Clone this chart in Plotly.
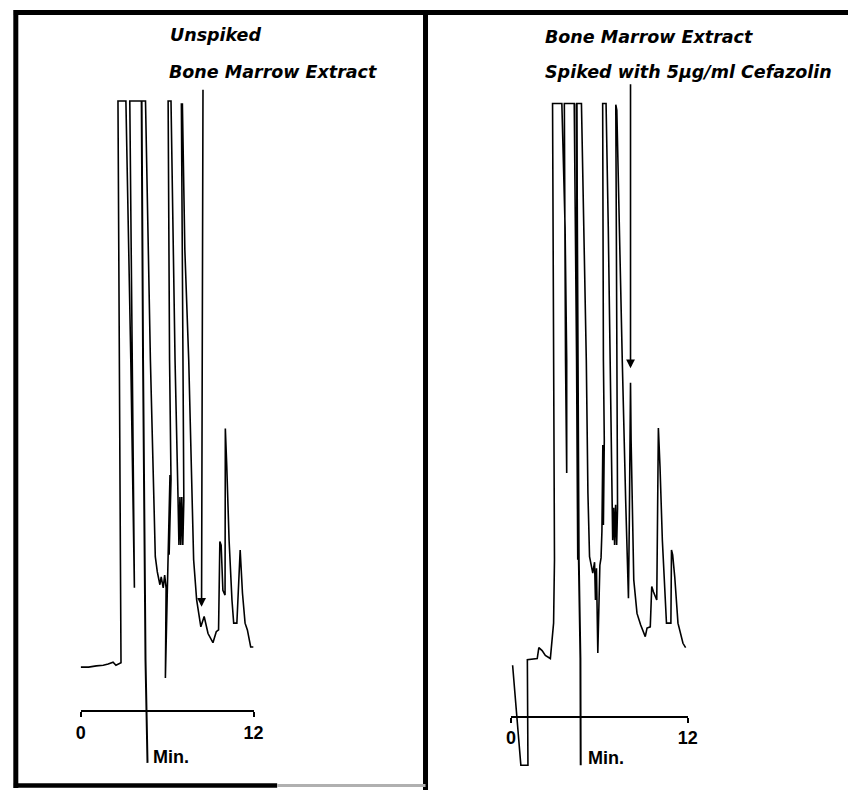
import plotly.graph_objects as go

# Chromatogram traces: retention time (min) vs. detector response (% full scale).
# Flat tops at 100 are off-scale peaks clipped by the recorder.

# Unspiked bone marrow extract
left_time = [0.0, 0.55, 1.09, 1.57, 1.91, 2.25, 2.45, 2.80, 2.76, 2.69, 2.59, 3.14, 3.34, 3.48, 3.73,
             3.58, 3.41, 4.50, 4.67, 4.84, 5.18, 5.32, 5.50, 5.59, 5.73, 5.83, 5.93, 5.88, 6.00,
             6.07, 6.20, 6.14, 6.27, 6.17, 6.07, 6.27, 6.41, 6.55, 6.75, 6.82, 6.89, 6.95, 7.02,
             7.09, 7.16, 7.09, 6.99, 7.06, 7.23, 7.50, 7.84, 8.05, 8.34, 8.57, 8.84, 9.18, 9.41,
             9.57, 9.66, 9.75, 9.87, 10.02, 10.04, 10.14, 10.30, 10.50, 10.62, 10.84, 10.94,
             11.07, 11.23, 11.41, 11.57, 11.80, 12.0]
left_signal = [7.2, 7.2, 7.4, 7.5, 7.7, 8.0, 7.5, 7.9, 24.8, 57.5, 100, 100, 75.6, 57.5, 20.2,
               57.5, 100, 100, 75.6, 57.5, 25.3, 22.8, 20.7, 22.0, 20.2, 22.3, 20.2, 5.4, 18.2,
               24.8, 38.7, 25.6, 37.9, 57.5, 100, 100, 75.6, 57.5, 35.7, 27.2, 35.1, 27.2, 35.1,
               27.2, 34.6, 67.4, 99.5, 99.5, 75.6, 57.5, 24.8, 18.2, 13.8, 15.5, 12.7, 11.2, 13.0,
               13.3, 27.8, 27.2, 19.8, 19.0, 46.3, 40.1, 28.0, 18.2, 14.4, 14.4, 19.0,
               26.4, 19.3, 14.4, 13.3, 10.5, 10.5]

# Time-mark pen stroke ("Min.")
left_mark_time = [4.23, 4.33, 4.50, 4.64]
left_mark_signal = [100, 57.5, 8.4, -8.5]

# Cefazolin arrow (tail, head)
left_arrow_time = [8.49, 8.39]
left_arrow_signal = [102.1, 17.1]

# Bone marrow extract spiked with 5 ug/ml cefazolin
right_time = [0.11, 0.67, 1.15, 1.11, 1.78, 1.89, 2.11, 2.33, 2.67, 2.78, 2.89, 2.95, 2.93, 2.89,
              2.82, 3.45, 3.67, 3.78, 3.78, 3.70, 3.62, 4.29, 4.38, 4.45, 4.53, 4.50, 4.45, 4.78,
              4.93, 5.11, 5.22, 5.33, 5.55, 5.67, 5.73, 5.80, 5.89, 5.97, 6.03, 6.11, 6.17, 6.23,
              6.27, 6.33, 6.27, 6.22, 6.45, 6.60, 6.73, 6.82, 6.90, 6.97, 7.03, 7.10, 7.17, 7.23,
              7.17, 7.11, 7.18, 7.33, 7.55, 7.78, 7.89, 7.97, 8.03, 8.11, 8.15, 8.23, 8.33, 8.55,
              8.80, 9.11, 9.23, 9.45, 9.55, 9.67, 9.78, 9.89, 10.0, 10.11, 10.27, 10.45, 10.55,
              10.85, 10.89, 10.97, 11.11, 11.33, 11.67, 11.85]
right_signal = [8.4, -8.0, -8.0, 9.3, 9.5, 11.3, 10.8, 10.0, 9.5, 12.0, 15.3, 25.7, 42.1, 80.3,
                100.5, 100.5, 80.3, 58.4, 39.9, 58.4, 100.5, 100.5, 80.3, 58.4, 25.7, 58.4, 100.5, 100.5,
                80.3, 58.4, 36.6, 26.2, 23.5, 25.3, 19.1, 24.3, 10.4, 20.7, 24.8, 26.0, 30.4, 44.5,
                31.4, 45.3, 58.4, 100.5, 100.5, 80.3, 58.4, 39.3, 28.9, 34.2, 28.1, 34.7, 28.1, 34.2,
                68.3, 100.3, 99.4, 80.3, 58.4, 35.5, 26.2, 19.4, 32.2, 54.7, 45.3, 32.2, 22.4, 16.9,
                15.0, 13.1, 14.5, 14.7, 21.3, 20.4, 19.6, 19.1, 47.3, 41.0, 28.9, 20.7, 15.3,
                15.3, 27.3, 26.5, 22.9, 15.3, 12.0, 11.3]

right_mark_time = [4.45, 4.60, 4.71, 4.73]
right_mark_signal = [100.5, 25.7, 9.6, -8.0]

right_arrow_time = [8.11, 8.11]
right_arrow_signal = [103.9, 57.1]

time_ticks = [0, 12]
tick_text = ["0", "12"]

W, H = 858, 790
INK = "black"
TITLE_FONT = dict(family="DejaVu Sans", size=17.5, color=INK, weight="bold", style="italic")
LABEL_FONT = dict(family="Liberation Sans", size=18, color=INK, weight="bold")

fig = go.Figure()

for xa, ya, t, s, w in [
    ("x", "y", left_time, left_signal, 1.6),
    ("x", "y", left_mark_time, left_mark_signal, 2.0),
    ("x2", "y2", right_time, right_signal, 1.6),
    ("x2", "y2", right_mark_time, right_mark_signal, 2.0),
]:
    fig.add_trace(go.Scatter(x=t, y=s, xaxis=xa, yaxis=ya, mode="lines",
                             line=dict(color=INK, width=w),
                             hoverinfo="skip", showlegend=False))

time_axis = dict(range=[0, 12], anchor="free", showline=True, linecolor=INK, linewidth=2,
                 ticks="outside", ticklen=5, tickwidth=2, tickcolor=INK,
                 tickvals=time_ticks, ticktext=tick_text, tickfont=LABEL_FONT,
                 ticklabelstandoff=0, showgrid=False, zeroline=False, fixedrange=True)

fig.update_layout(
    width=W, height=H,
    margin=dict(l=0, r=0, t=0, b=0),
    paper_bgcolor="white", plot_bgcolor="rgba(0,0,0,0)",
    showlegend=False,
    xaxis=dict(time_axis, domain=[77 / W, 253 / W], position=(H - 711) / H),
    yaxis=dict(domain=[0, 1], range=[-12.95, 116.56], visible=False, anchor="x", fixedrange=True),
    xaxis2=dict(time_axis, domain=[515 / W, 695 / W], position=(H - 716.5) / H),
    yaxis2=dict(domain=[0, 1], range=[-12.05, 117.46], visible=False, anchor="x2", fixedrange=True),
)

# Arrows marking the cefazolin retention time
for xr, yr, t, s in [("x", "y", left_arrow_time, left_arrow_signal),
                     ("x2", "y2", right_arrow_time, right_arrow_signal)]:
    fig.add_annotation(x=t[1], y=s[1], ax=t[0], ay=s[0], xref=xr, yref=yr, axref=xr, ayref=yr,
                       text="", showarrow=True, arrowhead=2, arrowsize=1.1, arrowwidth=1.6,
                       arrowcolor=INK, standoff=0)

# "Min." labels next to the time marks
fig.add_annotation(x=4.91, y=-7.5, xref="x", yref="y", text="Min.", showarrow=False,
                   xanchor="left", yanchor="middle", font=LABEL_FONT)
fig.add_annotation(x=5.11, y=-6.8, xref="x2", yref="y2", text="Min.", showarrow=False,
                   xanchor="left", yanchor="middle", font=LABEL_FONT)

# Panel titles
titles = [
    ("Unspiked", 166, 35),
    ("Bone Marrow Extract", 165, 72),
    ("Bone Marrow Extract", 548, 37),
    ("Spiked with 5µg/ml Cefazolin", 548, 72),
]
for txt, px, py in titles:
    fig.add_annotation(x=px / W, y=1 - py / H, xref="paper", yref="paper", text=txt,
                       showarrow=False, xanchor="left", yanchor="middle", font=TITLE_FONT)

# Panel frames
def frame(x0, y0, x1, y1, width, color=INK):
    fig.add_shape(type="line", xref="paper", yref="paper",
                  x0=x0 / W, y0=1 - y0 / H, x1=x1 / W, y1=1 - y1 / H,
                  line=dict(color=color, width=width))

frame(9, 12.5, 858, 12.5, 5)
frame(11, 10, 11, 788, 5)
frame(428, 10, 428, 790, 5)
frame(9, 785.5, 277, 785.5, 4.5)
frame(277, 785.5, 428, 785.5, 3, "#b0b0b0")

fig.write_html("out.html", config={"displayModeBar": False})
